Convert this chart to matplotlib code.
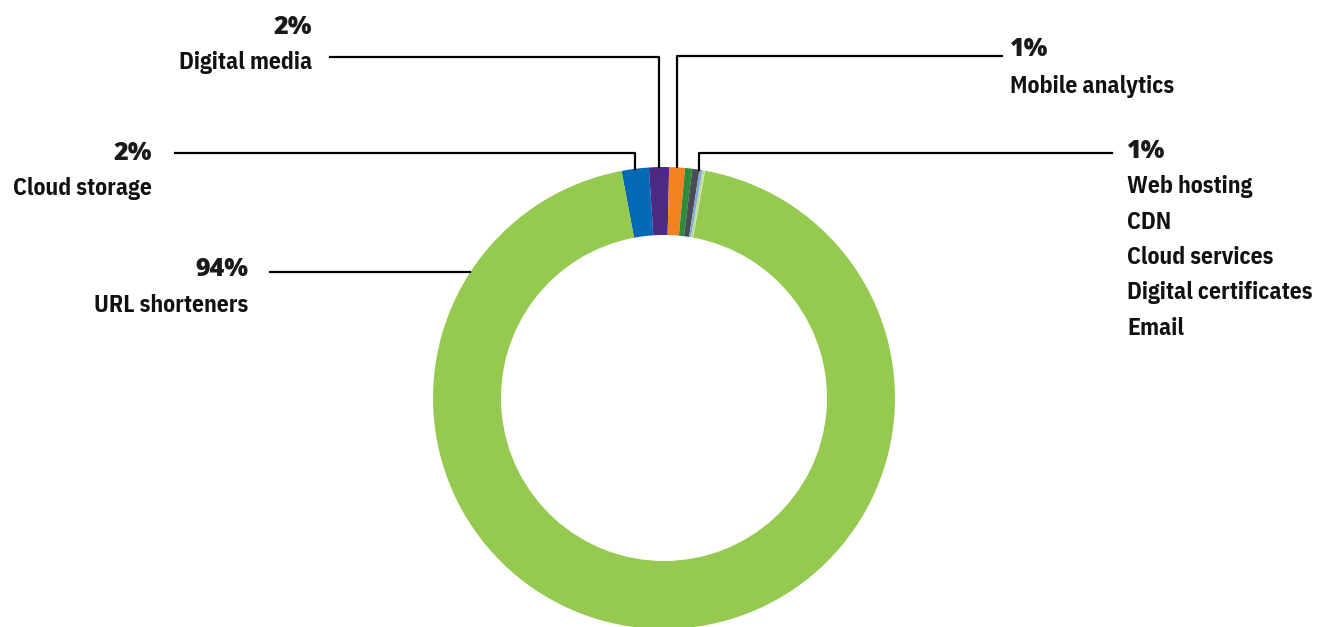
import numpy as np
import matplotlib
matplotlib.use('Agg')
import matplotlib.pyplot as plt

# slice order runs clockwise from the top-left edge of the blue slice
categories = ['Cloud storage', 'Digital media', 'Mobile analytics', 'Web hosting', 'CDN',
              'Cloud services', 'Digital certificates', 'Email', 'URL shorteners']
shares = [1.9, 1.4, 1.1, 0.5, 0.5, 0.2, 0.15, 0.05, 94.2]
colors = ['#0569b3', '#4b2a84', '#f58220', '#2e8b3a', '#4a4d55',
          '#7fa8dc', '#b8dc8c', '#d5e8b8', '#96c94f']

label_pct = ['2%', '2%', '1%', '1%', '94%']
small_group = ['Web hosting', 'CDN', 'Cloud services', 'Digital certificates', 'Email']

W, H = 1331, 627
fig = plt.figure(figsize=(W / 100, H / 100), dpi=100)
ax = fig.add_axes([0, 0, 1, 1])

cx, cy = 664, H - 398
r_out, r_in = 231, 163
start = 100.6
ax.pie(shares, colors=colors, center=(cx, cy), radius=r_out, startangle=start,
       counterclock=False, wedgeprops=dict(width=r_out - r_in, linewidth=0),
       frame=True)
ax.set_xlim(0, W)
ax.set_ylim(0, H)
ax.set_aspect('equal')
ax.axis('off')

# angle (deg, matplotlib convention) of slice boundaries
cum = np.concatenate([[0], np.cumsum(shares)]) / sum(shares) * 360
bounds = start - cum


def ring_point(a1, a2):
    a = np.radians((a1 + a2) / 2)
    return cx + r_out * np.cos(a), cy + r_out * np.sin(a)


lw = 1.6
pct_font = dict(family=['Open Sans', 'DejaVu Sans'], fontweight='heavy', fontsize=18,
                color='#1a1a1a')
name_font = dict(family=['IBM Plex Sans Condensed', 'DejaVu Sans'], fontweight='bold',
                 fontsize=17, color='#111111')

# Cloud storage
x0, y0 = ring_point(bounds[0], bounds[1])
ax.plot([175, x0, x0], [H - 153, H - 153, y0], color='black', lw=lw)
ax.text(152, H - 153, label_pct[0], ha='right', va='center', **pct_font)
ax.text(152, H - 189, categories[0], ha='right', va='center', **name_font)

# Digital media
x0, y0 = ring_point(bounds[1], bounds[2])
ax.plot([330, x0, x0], [H - 57, H - 57, y0], color='black', lw=lw)
ax.text(312, H - 27, label_pct[1], ha='right', va='center', **pct_font)
ax.text(312, H - 62, categories[1], ha='right', va='center', **name_font)

# Mobile analytics
x0, y0 = ring_point(bounds[2], bounds[3])
ax.plot([x0, x0, 1002], [y0, H - 56, H - 56], color='black', lw=lw)
ax.text(1010, H - 50, label_pct[2], ha='left', va='center', **pct_font)
ax.text(1010, H - 86, categories[2], ha='left', va='center', **name_font)

# small slices group
x0, y0 = ring_point(bounds[4], bounds[8])
ax.plot([x0, x0, 1112], [y0, H - 153, H - 153], color='black', lw=lw)
ax.text(1127, H - 152, label_pct[3], ha='left', va='center', **pct_font)
for i, name in enumerate(small_group):
    ax.text(1127, H - 187 - 35.3 * i, name, ha='left', va='center', **name_font)

# URL shorteners
yl = H - 272
xl = cx - np.sqrt(r_out ** 2 - (yl - cy) ** 2)
ax.plot([270, xl], [yl, yl], color='black', lw=lw)
ax.text(248, H - 270, label_pct[4], ha='right', va='center', **pct_font)
ax.text(248, H - 305, categories[8], ha='right', va='center', **name_font)

fig.savefig('out.png', dpi=100)
